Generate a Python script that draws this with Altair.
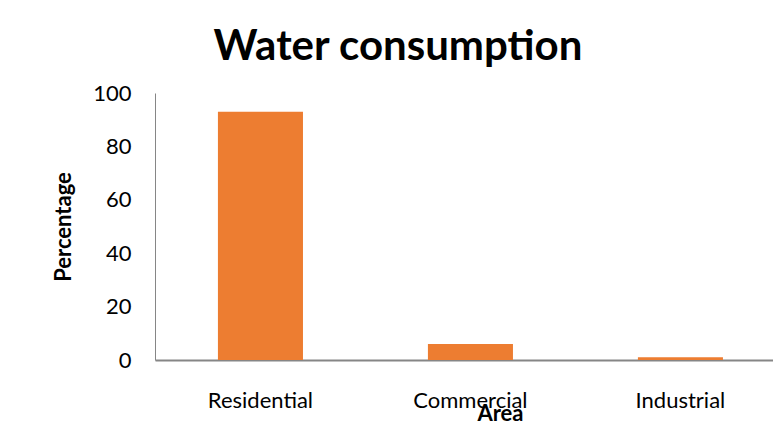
import altair as alt
import pandas as pd

# Share of water consumption by area
areas = ["Residential", "Commercial", "Industrial"]
percentages = [93, 6, 1]

df = pd.DataFrame({"Area": areas, "Percentage": percentages})

FONT = "Lato"

chart = alt.Chart(df).mark_bar(color="#ED7D31").encode(
    x=alt.X(
        "Area:N",
        sort=areas,
        scale=alt.Scale(paddingInner=0.595, paddingOuter=0.269, align=0.557),
        axis=alt.Axis(
            title="Area",
            titleFont=FONT,
            titleFontSize=22,
            titleFontWeight="bold",
            titleColor="#000000",
            titleX=345,
            titleY=53,
            titleBaseline="middle",
            labelFont=FONT,
            labelFontSize=22,
            labelColor="#000000",
            labelAngle=0,
            labelBaseline="middle",
            labelPadding=40,
            ticks=False,
            tickSize=0,
            grid=False,
            domainColor="#868686",
            domainWidth=2,
        ),
    ),
    y=alt.Y(
        "Percentage:Q",
        scale=alt.Scale(domain=[0, 100], nice=False),
        axis=alt.Axis(
            title="Percentage",
            titleFont=FONT,
            titleFontSize=22,
            titleFontWeight="bold",
            titleColor="#000000",
            titleX=-92,
            titleY=133.5,
            titleAngle=270,
            titleBaseline="middle",
            titleAlign="center",
            values=[0, 20, 40, 60, 80, 100],
            labelFont=FONT,
            labelFontSize=22,
            labelColor="#000000",
            labelPadding=24,
            ticks=False,
            tickSize=0,
            grid=False,
            domainColor="#868686",
            domainWidth=1,
        ),
    ),
).properties(
    width=618,
    height=267,
    background="#ffffff",
    title=alt.TitleParams(
        "Water consumption",
        font=FONT,
        fontSize=42,
        fontWeight="bold",
        color="#000000",
        anchor="middle",
        baseline="alphabetic",
        offset=0,
        dx=-66,
        dy=20,
    ),
    autosize=alt.AutoSizeParams(type="none"),
    padding={"left": 155, "top": 93, "right": 0, "bottom": 68},
).configure_view(strokeWidth=0)

chart.save("out.html", embed_options={"renderer": "svg", "actions": False})
